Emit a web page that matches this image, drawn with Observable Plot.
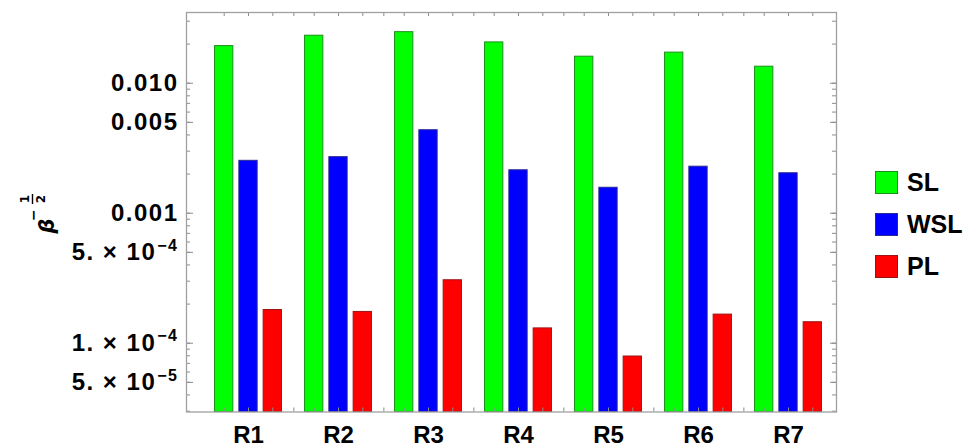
<!DOCTYPE html>
<html>
<head>
<meta charset="utf-8">
<script src="https://cdn.jsdelivr.net/npm/d3@7"></script>
<script src="https://cdn.jsdelivr.net/npm/@observablehq/plot@0.6"></script>
<style>
  html, body { margin: 0; padding: 0; background: #fff; }
  #chart { position: relative; width: 969px; height: 447px;
           font-family: "Liberation Sans", Arial, "DejaVu Sans", sans-serif; }
  #legend { position: absolute; left: 875px; top: 171px; }
  .item { display: flex; align-items: center; height: 23px; margin-bottom: 19px; }
  .sw { width: 21px; height: 21px; border: 1px solid; margin-right: 9px; }
  .item span { font-size: 25px; font-weight: bold; color: #000; }
</style>
</head>
<body>
<div id="chart"><div id="legend"></div></div>
<script>
// Categories and series
const groups = ["R1", "R2", "R3", "R4", "R5", "R6", "R7"];
const series = ["SL", "WSL", "PL"];

// beta^(-1/2) per group for each series
const SL  = [0.0193, 0.0232, 0.0247, 0.0206, 0.0160, 0.0172, 0.0134];
const WSL = [0.00253, 0.00270, 0.00435, 0.00214, 0.00157, 0.00228, 0.00203];
const PL  = [1.80e-4, 1.74e-4, 3.05e-4, 1.30e-4, 0.79e-4, 1.66e-4, 1.45e-4];

// Labelled y ticks and their text ("^" marks the start of an exponent)
const yLabelTicks = [5e-5, 1e-4, 5e-4, 1e-3, 5e-3, 1e-2];
const yTickLabels = ["5. × 10^−5", "1. × 10^−4", "5. × 10^−4", "0.001", "0.005", "0.010"];

const yDomain = [2.957e-5, 0.035];

// Colours
const fills   = ["#00ff00", "#0000ff", "#ff0000"];
const strokes = ["#1c8c1c", "#2a2a96", "#9a1414"];
const tickColor = "#8c8c8c";

// Layout
const W = 969, H = 447;
const mL = 186, mR = 133, mT = 12, mB = 35.5;
const plotW = W - mL - mR, plotH = H - mT - mB;
const padL = 14, padR = 1;
const bw = (plotW - padL - padR) / groups.length;
const barW = 19, barStep = 24.3;
const offset = j => (j - (series.length - 1) / 2) * barStep;

const seriesValues = {SL, WSL, PL};
const rows = groups.flatMap((g, i) => series.map(s => ({group: g, series: s, value: seriesValues[s][i]})));

// Unlabelled log subdivisions
const minorTicks = [];
for (let e = -5; e <= -2; e++) for (let k = 1; k <= 9; k++) {
  const v = k * Math.pow(10, e);
  if (v >= yDomain[0] && v <= yDomain[1]) minorTicks.push(v);
}

const barMarks = series.map((s, j) => Plot.barY(rows.filter(d => d.series === s), {
  x: "group", y1: yDomain[0], y2: "value",
  fill: fills[j], stroke: strokes[j], strokeWidth: 1,
  insetLeft: (bw - barW) / 2 + offset(j),
  insetRight: (bw - barW) / 2 - offset(j)
}));

// Short inward ticks along the top and bottom edges: one per bar, one between groups
const xTicks = [];
for (const edge of ["top", "bottom"]) {
  const inset = edge === "top" ? {insetBottom: plotH - 4} : {insetTop: plotH - 4};
  series.forEach((s, j) => xTicks.push(Plot.tickX(groups, {x: d => d, dx: offset(j), stroke: tickColor, ...inset})));
  xTicks.push(Plot.tickX(groups.slice(0, -1), {x: d => d, dx: bw / 2, stroke: tickColor, ...inset}));
}

// Short inward ticks along the left and right edges
const yTicks = [
  Plot.tickY(yLabelTicks, {y: d => d, stroke: tickColor, insetRight: plotW - 7}),
  Plot.tickY(minorTicks, {y: d => d, stroke: tickColor, insetRight: plotW - 4}),
  Plot.tickY(yLabelTicks, {y: d => d, stroke: tickColor, insetLeft: plotW - 6}),
  Plot.tickY(minorTicks, {y: d => d, stroke: tickColor, insetLeft: plotW - 4})
];

const plot = Plot.plot({
  width: W, height: H,
  marginLeft: mL, marginRight: mR, marginTop: mT, marginBottom: mB,
  style: {fontFamily: "'Liberation Sans', Arial, 'DejaVu Sans', sans-serif", background: "transparent", color: "#000"},
  x: {type: "band", domain: groups, padding: 0, insetLeft: padL, insetRight: padR, axis: null, label: null},
  y: {type: "log", domain: yDomain, axis: null, label: null},
  marks: [
    ...barMarks,
    ...xTicks,
    ...yTicks,
    Plot.axisX({anchor: "bottom", tickSize: 0, tickPadding: 13.5, fontSize: 24, fontWeight: "bold", label: null}),
    Plot.text(yLabelTicks, {
      y: d => d, text: (d, i) => yTickLabels[i], frameAnchor: "left", textAnchor: "end",
      dx: -8, fontSize: 24, fontWeight: "bold", fill: "#000"
    }),
    Plot.frame({stroke: "#a0a0a0", strokeWidth: 1.3})
  ]
});
document.getElementById("chart").prepend(plot);

// Y tick labels: slightly looser digits, exponent raised
d3.select(plot).selectAll('g[aria-label="text"] text').each(function () {
  const t = d3.select(this).attr("letter-spacing", 1.5);
  const [base, exp] = t.text().split("^");
  if (exp === undefined) return;
  t.text(null);
  t.append("tspan").text(base);
  t.append("tspan").attr("dy", -9.5).attr("font-size", 16).attr("dx", 1).text(exp);
});

// Axis title: beta to the power -1/2, rotated
const title = d3.select(plot).append("g")
  .attr("transform", "translate(54,226) rotate(-90)")
  .attr("font-family", "'DejaVu Sans', sans-serif")
  .attr("fill", "#000");
title.append("text").attr("x", 0).attr("y", 0)
  .attr("font-size", 21).attr("font-style", "italic").attr("font-weight", "bold").text("β");
title.append("text").attr("x", 11).attr("y", -16.5)
  .attr("font-size", 14).attr("font-weight", "bold").text("−");
title.append("text").attr("x", 27).attr("y", -25).attr("text-anchor", "middle")
  .attr("font-size", 12).attr("font-weight", "bold").text("1");
title.append("line").attr("x1", 22).attr("x2", 32).attr("y1", -21.5).attr("y2", -21.5)
  .attr("stroke", "#000").attr("stroke-width", 1.4);
title.append("text").attr("x", 27).attr("y", -9.5).attr("text-anchor", "middle")
  .attr("font-size", 12).attr("font-weight", "bold").text("2");

// Legend
const legend = d3.select("#legend");
series.forEach((s, j) => {
  const item = legend.append("div").attr("class", "item");
  item.append("div").attr("class", "sw").style("background", fills[j]).style("border-color", strokes[j]);
  item.append("span").text(s);
});
</script>
</body>
</html>
